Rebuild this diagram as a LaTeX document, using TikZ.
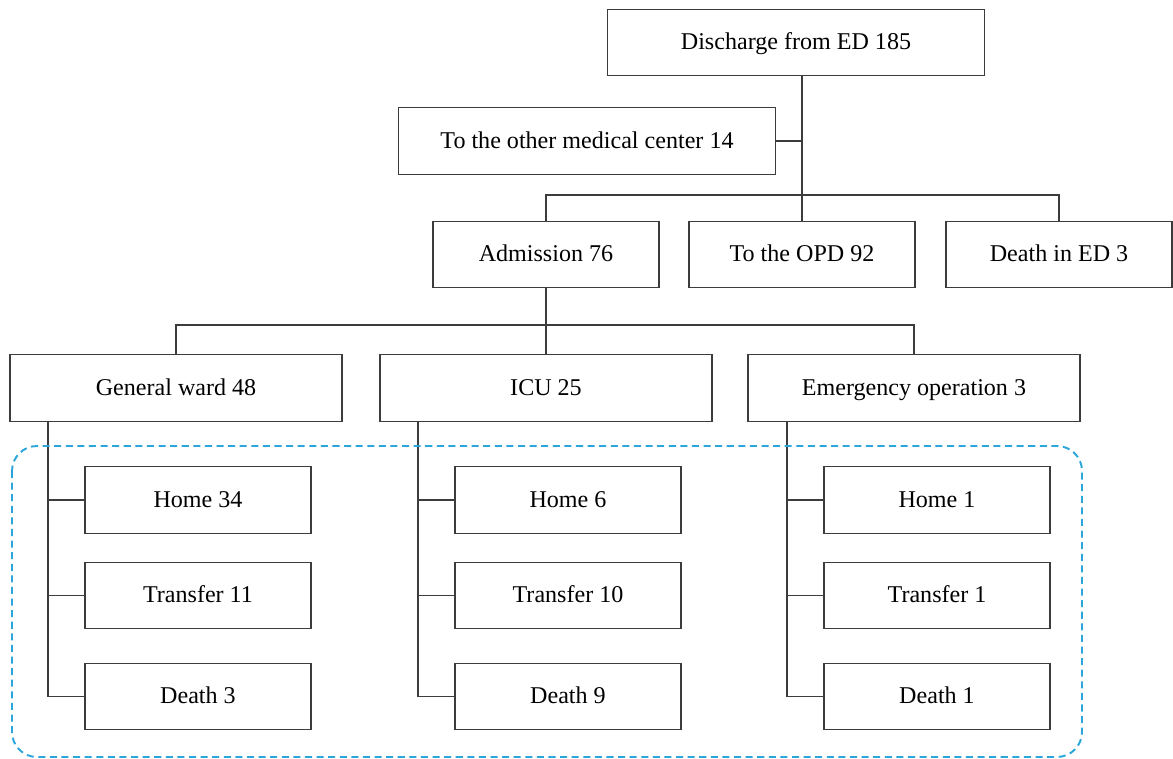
\documentclass[tikz,border=0pt]{standalone}
\usepackage{fontspec}
\setmainfont{Liberation Serif}
\usepackage{tikz}
\definecolor{linegray}{RGB}{60,60,60}
\definecolor{dashblue}{RGB}{42,166,218}
\tikzstyle{box}=[draw=linegray,line width=0.8pt,minimum height=1.33cm,inner sep=0pt,text height=0.9em,text depth=0.1em,font=\fontsize{13.7}{16}\selectfont]
\tikzstyle{widebox}=[box,minimum width=7.54cm]
\tikzstyle{midbox}=[box,minimum width=6.64cm]
\tikzstyle{smallbox}=[box,minimum width=4.52cm]
\tikzstyle{link}=[draw=linegray,line width=0.8pt]

\begin{document}
\begin{tikzpicture}[x=0.02cm,y=-0.02cm]
  \useasboundingbox (0,0) rectangle (1173,759);
  % top levels
  \node[widebox] (DC)  at (796,42.5)  {Discharge from ED 185};
  \node[widebox] (OMC) at (587,141)   {To the other medical center 14};
  \node[smallbox] (ADM) at (546,254.5) {Admission 76};
  \node[smallbox] (OPD) at (802,254.5) {To the OPD 92};
  \node[smallbox] (DED) at (1059,254.5) {Death in ED 3};
  % wards
  \node[midbox] (GW)  at (176,388)  {General ward 48};
  \node[midbox] (ICU) at (546,388)  {ICU 25};
  \node[midbox] (EO)  at (914,388)  {Emergency operation 3};
  % outcomes
  \node[smallbox] (GWH) at (198,500)   {Home 34};
  \node[smallbox] (GWT) at (198,595.5) {Transfer 11};
  \node[smallbox] (GWD) at (198,696.5) {Death 3};
  \node[smallbox] (ICUH) at (568,500)   {Home 6};
  \node[smallbox] (ICUT) at (568,595.5) {Transfer 10};
  \node[smallbox] (ICUD) at (568,696.5) {Death 9};
  \node[smallbox] (EOH) at (937,500)   {Home 1};
  \node[smallbox] (EOT) at (937,595.5) {Transfer 1};
  \node[smallbox] (EOD) at (937,696.5) {Death 1};
  % connectors
  \coordinate (J1) at (802,195);
  \coordinate (J2) at (546,325);
  \draw[link] (OPD.north) -- (OPD.north |- DC.south);
  \draw[link] (OMC.east) -- (OMC.east -| OPD.north);
  \draw[link] (ADM.north) |- (J1) -| (DED.north);
  \draw[link] (ADM.south) -- (J2);
  \draw[link] (GW.north) |- (J2) -| (EO.north);
  \draw[link] (ICU.north) -- (J2);
  \coordinate (GWs)  at (48,421);
  \coordinate (ICUs) at (418,421);
  \coordinate (EOs)  at (787,421);
  \foreach \w in {GW,ICU,EO}{
    \draw[link] (\w s) |- (\w D.west);
    \draw[link] (\w s |- \w H.west) -- (\w H.west);
    \draw[link] (\w s |- \w T.west) -- (\w T.west);
  }
  % outcome group
  \draw[dashblue,line width=1.1pt,dash pattern=on 4pt off 2.6pt,rounded corners=0.5cm]
    (12,446) rectangle (1082,757);
\end{tikzpicture}
\end{document}
